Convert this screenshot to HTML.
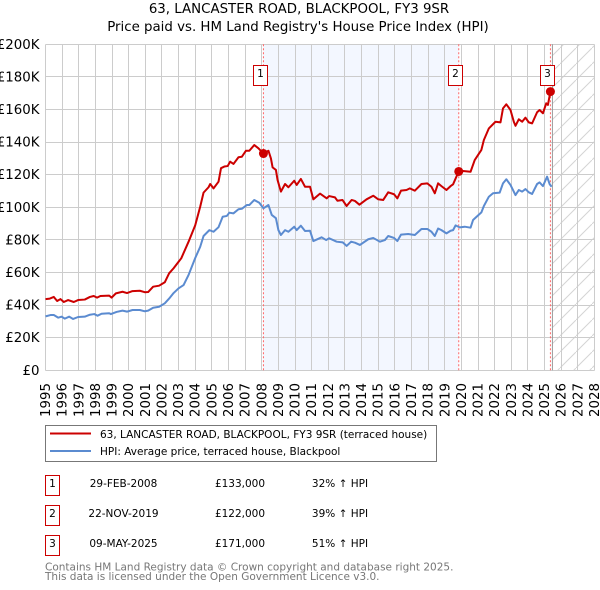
<!DOCTYPE html>
<html>
<head>
<meta charset="utf-8">
<style>
html,body{margin:0;padding:0;background:#fff;}
svg{display:block;font-family:"DejaVu Sans","Liberation Sans",sans-serif;}
</style>
</head>
<body>
<svg id="chart" xmlns="http://www.w3.org/2000/svg" width="600" height="590" viewBox="0 0 600 590">
<defs>
<pattern id="hatch" patternUnits="userSpaceOnUse" width="16" height="16">
<line x1="0" y1="16" x2="16" y2="0" stroke="#d4d4d4" stroke-width="1"/>
</pattern>
</defs>
<rect width="600" height="590" fill="#fff"/>
<text x="299" y="13" font-size="13.35" text-anchor="middle" fill="#000">63, LANCASTER ROAD, BLACKPOOL, FY3 9SR</text>
<text x="298" y="31" font-size="13.35" text-anchor="middle" fill="#000">Price paid vs. HM Land Registry's House Price Index (HPI)</text>
<g id="plot"></g>
<g>
<rect x="45.5" y="425.5" width="391" height="36" fill="#fff" stroke="#777" stroke-width="1"/>
<line x1="50" y1="433.5" x2="91" y2="433.5" stroke="#cc0000" stroke-width="2"/>
<text x="100" y="438" font-size="10.5" fill="#000">63, LANCASTER ROAD, BLACKPOOL, FY3 9SR (terraced house)</text>
<line x1="50" y1="451" x2="91" y2="451" stroke="#5b8bd0" stroke-width="2"/>
<text x="100" y="455" font-size="10.5" fill="#000">HPI: Average price, terraced house, Blackpool</text>
</g>
<g font-size="10.5" fill="#000">
<rect x="45.5" y="475.5" width="14" height="20" fill="#fff" stroke="#cc0000" stroke-width="1"/>
<text x="52.5" y="487" text-anchor="middle">1</text>
<text x="123.5" y="487" text-anchor="middle">29-FEB-2008</text>
<text x="240" y="487" text-anchor="middle">£133,000</text>
<text x="340" y="487" text-anchor="middle">32% ↑ HPI</text>
<rect x="45.5" y="505.5" width="14" height="20" fill="#fff" stroke="#cc0000" stroke-width="1"/>
<text x="52.5" y="517" text-anchor="middle">2</text>
<text x="123.5" y="517" text-anchor="middle">22-NOV-2019</text>
<text x="240" y="517" text-anchor="middle">£122,000</text>
<text x="340" y="517" text-anchor="middle">39% ↑ HPI</text>
<rect x="45.5" y="535.5" width="14" height="20" fill="#fff" stroke="#cc0000" stroke-width="1"/>
<text x="52.5" y="547" text-anchor="middle">3</text>
<text x="123.5" y="547" text-anchor="middle">09-MAY-2025</text>
<text x="240" y="547" text-anchor="middle">£171,000</text>
<text x="340" y="547" text-anchor="middle">51% ↑ HPI</text>
</g>
<text x="45" y="570.5" font-size="10.5" fill="#777">Contains HM Land Registry data © Crown copyright and database right 2025.</text>
<text x="45" y="580" font-size="10.5" fill="#777">This data is licensed under the Open Government Licence v3.0.</text>
</svg>
<script>
const yearTicks = [1995,1996,1997,1998,1999,2000,2001,2002,2003,2004,2005,2006,2007,2008,2009,2010,2011,2012,2013,2014,2015,2016,2017,2018,2019,2020,2021,2022,2023,2024,2025,2026,2027,2028];
const valueTicks = [0,20,40,60,80,100,120,140,160,180,200];
const paidYears = [1995,1995.26,1995.5,1995.7,1995.9,1996.1,1996.36,1996.7,1996.96,1997.36,1997.67,1997.9,1998.1,1998.3,1998.83,1998.97,1999.23,1999.63,1999.9,2000.23,2000.67,2000.97,2001.17,2001.47,2001.83,2002.17,2002.43,2002.7,2003,2003.16,2003.6,2004,2004.3,2004.5,2004.8,2004.9,2005.1,2005.4,2005.55,2005.75,2005.95,2006.1,2006.3,2006.6,2006.8,2007.05,2007.25,2007.55,2007.8,2008.1,2008.4,2008.55,2008.65,2008.85,2008.95,2009.15,2009.4,2009.6,2009.95,2010.1,2010.35,2010.6,2010.9,2011.1,2011.5,2011.9,2012.05,2012.4,2012.55,2012.85,2013.1,2013.4,2013.6,2013.87,2014.3,2014.7,2015,2015.3,2015.6,2015.95,2016.15,2016.37,2016.7,2016.9,2017.2,2017.6,2017.95,2018.2,2018.4,2018.6,2018.8,2019.1,2019.35,2019.5,2019.7,2019.84,2020.1,2020.55,2020.8,2021.2,2021.35,2021.65,2021.95,2022.05,2022.35,2022.5,2022.7,2022.95,2023.15,2023.25,2023.45,2023.65,2023.85,2024.05,2024.25,2024.55,2024.7,2024.9,2025.1,2025.2,2025.35];
const paidValues = [43.7,44,45,42.5,43.7,41.9,43.1,41.9,43.1,43.4,45,45.6,44.6,45.6,45.8,44.6,47.2,48.2,47.4,48.6,48.8,47.9,48,51.3,51.9,54,59.5,62.6,66.6,68.7,78.9,89,100.4,109,112.3,114.3,111.6,115.7,124,125,125.3,128,126.6,130.7,131,134.7,134.7,138.2,136.2,133,134.7,130,124.5,122.9,116.7,109.6,114.3,112.3,116.3,113.7,117.4,112.6,112.6,104.9,108.4,105.5,106.9,106.1,104,104.5,100.8,104.5,103.9,101.6,104.9,107.1,104.9,104.5,109.2,108,105.5,110.2,110.6,111.6,110.2,114.3,114.7,112.6,108.6,114.7,113,110.6,113,114.1,118.8,122,122.3,121.8,129,135.2,141.3,148.4,151.5,152.5,152.1,160.7,163.2,159.7,152.5,150,154,152.5,155,152.1,151.5,158.3,159.7,157.7,163.8,162.8,171];
const hpiYears = [1995,1995.3,1995.5,1995.76,1995.96,1996.16,1996.42,1996.66,1996.96,1997.36,1997.67,1997.93,1998.13,1998.37,1998.83,1998.93,1999.27,1999.63,1999.9,2000.23,2000.67,2000.97,2001.17,2001.47,2001.83,2002.17,2002.43,2002.7,2003,2003.3,2003.6,2004,2004.3,2004.5,2004.85,2005.1,2005.4,2005.65,2005.9,2006.05,2006.3,2006.6,2006.8,2007.1,2007.25,2007.55,2007.85,2008.1,2008.4,2008.6,2008.85,2009,2009.15,2009.4,2009.6,2009.95,2010.1,2010.35,2010.6,2010.9,2011.1,2011.6,2011.87,2012.05,2012.5,2012.87,2013.1,2013.37,2013.6,2013.9,2014.4,2014.7,2015.1,2015.4,2015.6,2015.95,2016.15,2016.37,2016.8,2017.2,2017.6,2017.95,2018.2,2018.4,2018.6,2018.8,2019.1,2019.35,2019.5,2019.65,2019.9,2020.2,2020.55,2020.7,2021.2,2021.35,2021.65,2021.9,2022.3,2022.5,2022.7,2022.95,2023.25,2023.45,2023.65,2023.85,2024.05,2024.25,2024.55,2024.7,2024.9,2025.15,2025.3,2025.42];
const hpiValues = [33.1,33.9,33.9,32.3,32.9,31.7,32.9,31.5,32.7,32.9,34.1,34.5,33.5,34.7,35,34.5,35.8,36.6,36,37,37,36.2,36.6,38.4,39,41.1,44,47.4,50.3,52.3,58.5,68.9,75.8,82.4,86,85,87.8,94.2,94.7,96.7,96.3,98.8,99.1,101.4,101.4,104.5,102.8,99.4,101.4,95.3,93.3,86,83,86,85,88.1,86,88.7,85.5,85.6,79.3,81.6,79.9,81,78.9,78.5,76.3,78.9,78.3,76.9,80.4,81.2,78.9,79.9,82.4,81.2,79.3,83.2,83.6,83,86.7,86.7,85,82.4,87,86,84,85.6,86,88.9,87.7,88.1,87.5,92.2,96.9,100.8,106.5,108.6,109,114.7,117.2,113.7,107.5,110.6,109.6,111.2,109.2,108.2,114.3,115.3,113,118.8,114.3,112.6];
const saleNumbers = ["1","2","3"];
const saleYears = [2008.1,2019.84,2025.35];
const salePrices = [133,122,171];
const dataEndYear = 2025.47;

const NS = "http://www.w3.org/2000/svg";
const plot = document.getElementById("plot");
const LEFT = 45.5, RIGHT = 594.5, TOP = 44.3, BOTTOM = 370.3;
const Y0 = 1995, Y1 = 2028, VMAX = 200;
function xAxis(y){ return LEFT + (y - Y0) * (RIGHT - LEFT) / (Y1 - Y0); }
function yAxis(v){ return BOTTOM - v * (BOTTOM - TOP) / VMAX; }
function make(tag, attrs, parent){
  const el = document.createElementNS(NS, tag);
  for (const k in attrs) el.setAttribute(k, attrs[k]);
  (parent || plot).appendChild(el);
  return el;
}
function linePath(xs, vs){
  return xs.map((y, i) => (i ? "L" : "M") + xAxis(y).toFixed(2) + " " + yAxis(vs[i]).toFixed(2)).join(" ");
}

// period shading between first and second sale
const shade = make("rect", {x: xAxis(saleYears[0]), y: TOP, width: xAxis(saleYears[1]) - xAxis(saleYears[0]), height: BOTTOM - TOP, fill: "#f3f7ff"});



// forecast hatch
const hatch = make("rect", {x: xAxis(dataEndYear), y: TOP, width: RIGHT - xAxis(dataEndYear), height: BOTTOM - TOP, fill: "url(#hatch)"});



// grid + ticks
yearTicks.forEach(function(y){
  const px = Math.round(xAxis(y) - 0.5) + 0.5;
  const g = make("line", {x1: px, x2: px, y1: TOP, y2: BOTTOM, stroke: "#ccc", "stroke-width": 1, "shape-rendering": "crispEdges"});
  
  
  const t = make("text", {transform: "translate(" + (xAxis(y) + 4.5) + ",383) rotate(-90)", "font-size": 13.35, "text-anchor": "end", fill: "#000"});
  t.textContent = y;
  
  
});
valueTicks.forEach(function(v){
  const py = Math.round(yAxis(v) - 0.5) + 0.5;
  const g = make("line", {x1: LEFT, x2: RIGHT, y1: py, y2: py, stroke: "#ccc", "stroke-width": 1, "shape-rendering": "crispEdges"});
  
  
  const t = make("text", {x: 39.5, y: yAxis(v) + 4.5, "font-size": 13.35, "text-anchor": "end", fill: "#000"});
  t.textContent = "£" + v + (v ? "K" : "");
  
  
});

// data end line
const endLine = make("line", {x1: xAxis(dataEndYear), x2: xAxis(dataEndYear), y1: TOP, y2: BOTTOM, stroke: "#999", "stroke-width": 1});



// sale reference lines
saleYears.forEach(function(y){
  const l = make("line", {x1: xAxis(y), x2: xAxis(y), y1: TOP, y2: BOTTOM, stroke: "#f66", "stroke-width": 1, "stroke-dasharray": "2 2"});
  
  
});

// series
const hpiLine = make("path", {d: linePath(hpiYears, hpiValues), fill: "none", stroke: "#5b8bd0", "stroke-width": 2, "stroke-linejoin": "round"});


const paidLine = make("path", {d: linePath(paidYears, paidValues), fill: "none", stroke: "#cc0000", "stroke-width": 2, "stroke-linejoin": "round"});



// sale markers + badges
saleYears.forEach(function(y, i){
  const c = make("circle", {cx: xAxis(y), cy: yAxis(salePrices[i]), r: 4.5, fill: "#cc0000"});
  
  
  const b = make("rect", {x: Math.floor(xAxis(y)) - 9.5, y: 65.5, width: 14, height: 20, fill: "#fff", stroke: "#cc0000", "stroke-width": 1});
  
  
  const t = make("text", {x: Math.floor(xAxis(y)) - 2.5, y: 77, "font-size": 10.5, "text-anchor": "middle", fill: "#000"});
  t.textContent = saleNumbers[i];
  
  
});
</script>
</body>
</html>
